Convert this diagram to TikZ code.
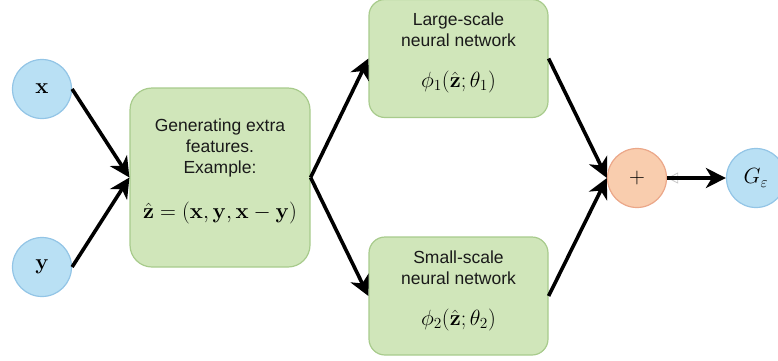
\RequirePackage{fix-cm}
\documentclass[tikz,border=0pt]{standalone}
\usepackage[no-math]{fontspec}
\setmainfont{Liberation Sans}
\usetikzlibrary{arrows.meta}
\definecolor{bfill}{HTML}{B9E0F4}
\definecolor{bdraw}{HTML}{93C5E6}
\definecolor{gfill}{HTML}{D0E6BA}
\definecolor{gdraw}{HTML}{A8CB8C}
\definecolor{ofill}{HTML}{F9CDAE}
\definecolor{odraw}{HTML}{EBA789}
\definecolor{tcol}{HTML}{1A1A1A}
\tikzset{
  inp/.style={circle, fill=bfill, draw=bdraw, line width=1.2pt, minimum size=59pt, inner sep=0pt, font=\fontsize{22}{26}\selectfont},
  sumnode/.style={circle, fill=ofill, draw=odraw, line width=1.2pt, minimum size=59pt, inner sep=0pt, font=\fontsize{22}{26}\selectfont},
  gbox/.style={rectangle, fill=gfill, draw=gdraw, line width=1.2pt, inner sep=0pt},
  txt/.style={align=center, text=tcol, font=\fontsize{17.5}{21}\selectfont, inner sep=0pt},
  mth/.style={text=black, font=\fontsize{22}{26}\selectfont, inner sep=0pt},
  arr/.style={line width=3.6pt, -{Stealth[length=20pt,width=20pt,inset=6pt]}},
  faint/.style={draw=black!22, line width=0.8pt, -{Triangle[open,length=11pt,width=11pt]}}
}
\begin{document}
\begin{tikzpicture}[x=1pt,y=-1pt]
\useasboundingbox (0,0) rectangle (778,360);
% nodes
\node[inp] (x) at (42,89) {$\mathbf{x}$};
\node[inp] (y) at (42,267) {$\mathbf{y}$};
\node[gbox, minimum width=180pt, minimum height=179pt, rounded corners=22pt] (gen) at (220,177.5) {};
\node[txt] (gent) at (220,148) {Generating extra\\features.\\Example:};
\node[mth] (genm) at (220,213) {$\hat{\mathbf{z}}=(\mathbf{x},\mathbf{y},\mathbf{x}-\mathbf{y})$};
\node[gbox, minimum width=179pt, minimum height=118pt, rounded corners=16pt] (large) at (458.5,58.5) {};
\node[txt] (larget) at (458.5,30) {Large-scale\\neural network};
\node[mth] (largem) at (458.5,82) {$\phi_1(\hat{\mathbf{z}};\theta_1)$};
\node[gbox, minimum width=179pt, minimum height=118pt, rounded corners=16pt] (small) at (458.5,296) {};
\node[txt] (smallt) at (458.5,268) {Small-scale\\neural network};
\node[mth] (smallm) at (458.5,320) {$\phi_2(\hat{\mathbf{z}};\theta_2)$};
\node[sumnode] (plus) at (637,178) {$+$};
\node[inp] (g) at (756,178) {$G_\varepsilon$};
% connectors
\coordinate (fa) at (700,178);
\draw[faint] (fa) -- (plus.east);
\draw[arr] (x.east) -- (gen.west);
\draw[arr] (y.east) -- (gen.west);
\draw[arr] (gen.east) -- (large.west);
\draw[arr] (gen.east) -- (small.west);
\draw[arr] (large.east) -- (plus.west);
\draw[arr] (small.east) -- (plus.west);
\draw[arr] (plus.east) -- (g.west);
\end{tikzpicture}
\end{document}
